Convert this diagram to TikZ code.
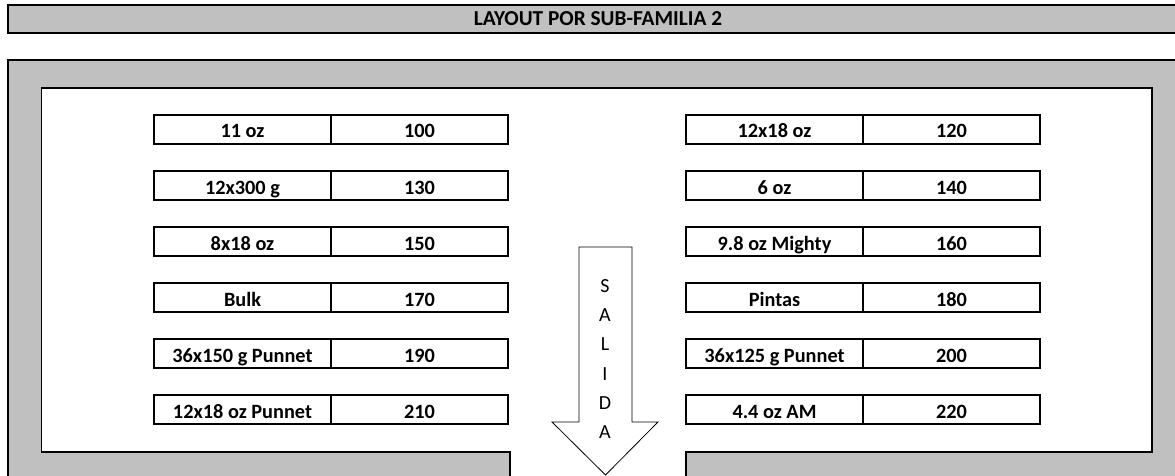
\documentclass[tikz,border=0pt]{standalone}
\usepackage{fontspec}
\setmainfont{Carlito}
\definecolor{framegray}{HTML}{C0C0C0}

\begin{document}
\begin{tikzpicture}[x=1pt,y=-1pt,
  cell/.style={draw,line width=1.6pt,minimum width=177pt,minimum height=28.5pt,inner sep=0pt,
    text height=17pt,text depth=0pt,font=\fontsize{20.3}{22}\selectfont\bfseries},
  letter/.style={font=\fontsize{20}{22}\selectfont,inner sep=0pt}]
\useasboundingbox (0,0) rectangle (1175,476);
% title bar
\fill[framegray] (8,5) rectangle (1190,33);
\draw[line width=1.6pt] (1190,5) -- (8,5) -- (8,33) -- (1190,33);
\node[font=\fontsize{21.3}{24}\selectfont\bfseries] (title) at (598,19) {LAYOUT POR SUB-FAMILIA 2};
% frame
\fill[framegray] (8,60) rectangle (1190,490);
\draw[line width=1.6pt] (1190,60) -- (8,60) -- (8,490);
\draw[line width=1.6pt,fill=white] (510,490) -- (510,452) -- (41.5,452) -- (41.5,88)
  -- (1152,88) -- (1152,452) -- (686,452) -- (686,490);
% left column
\foreach \name/\val [count=\i from 0] in {11 oz/100,12x300 g/130,8x18 oz/150,Bulk/170,36x150 g Punnet/190,12x18 oz Punnet/210}{
  \node[cell] (ln\i) at (242.5,{129.5+56*\i}) {\name};
  \node[cell] (lv\i) at (419.5,{129.5+56*\i}) {\val};
}
% right column
\foreach \name/\val [count=\i from 0] in {12x18 oz/120,6 oz/140,9.8 oz Mighty/160,Pintas/180,36x125 g Punnet/200,4.4 oz AM/220}{
  \node[cell] (rn\i) at (774.5,{129.5+56*\i}) {\name};
  \node[cell] (rv\i) at (951.5,{129.5+56*\i}) {\val};
}
% exit arrow
\draw[line width=0.8pt,fill=white] (579,247) -- (632,247) -- (632,422) -- (658,422)
  -- (605.5,475) -- (552,422) -- (579,422) -- cycle;
\foreach \c [count=\i from 0] in {S,A,L,I,D,A}
  \node[letter] (salida\i) at (605,{286+29.2*\i}) {\c};
\end{tikzpicture}
\end{document}
